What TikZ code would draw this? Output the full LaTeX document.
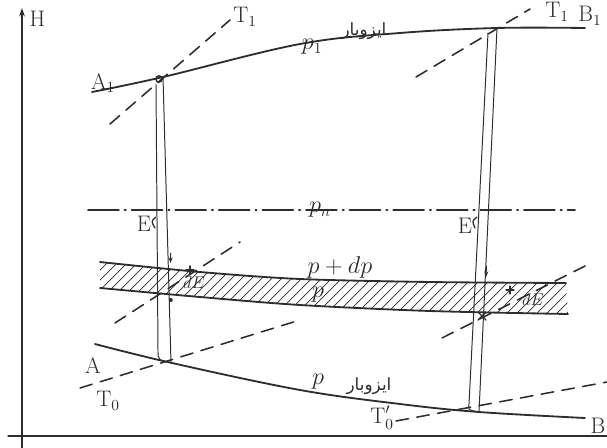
\documentclass[tikz,border=0pt]{standalone}
\usepackage{fontspec}
\newfontfamily\arabicfont[Script=Arabic]{DejaVu Sans}
\TeXXeTstate=1
\usetikzlibrary{arrows.meta,calc}

\begin{document}
\begin{tikzpicture}[x=0.025cm,y=-0.025cm,line cap=round,line join=round]
  % ----- styles & colors -----
    \definecolor{ink}{RGB}{45,45,45}  % pencil gray
  \tikzset{
    curve/.style={draw=ink,line width=1.3pt},
    guide/.style={draw=ink,line width=0.7pt},
    tangent/.style={draw=ink,line width=1.1pt,dash pattern=on 9pt off 6pt},
    dashdot_line/.style={draw=ink,line width=1.1pt,dash pattern=on 22pt off 4pt on 1pt off 4pt},
    hatch/.style={draw=ink,line width=0.5pt},
    lbl/.style={font=\fontsize{16}{18}\selectfont,text=ink,inner sep=1pt},
    fa/.style={font=\arabicfont\fontsize{12}{14}\selectfont,text=ink,inner sep=1pt},
    tip/.style={draw=ink,line width=0.7pt,-{Stealth[length=4pt,width=3pt]}}
  }
  \useasboundingbox (0,0) rectangle (607,448);

  % ----- geometry -----
  \coordinate (P1) at (163,77);   % tangent point on upper isobar, left
  \coordinate (Q1) at (497,28);   % tangent point on upper isobar, right
  \coordinate (P0) at (172,363);  % tangent point on lower isobar, left
  \coordinate (Q0) at (479,412);  % tangent point on lower isobar, right

  % ----- axes -----
  \coordinate (Hbot) at (22,448);
  \coordinate (Htop) at (22,8);
  \coordinate (Bl) at (8,436);
  \coordinate (Br) at (607,436);
  \draw[curve,line width=0.9pt,-{Stealth[length=6pt,width=4pt]}] (Hbot) -- (Htop);
  \draw[curve,line width=0.9pt] (Bl) -- (Br);
  \node[lbl,anchor=west] (H) at (28,19) {H};

  % ----- isobars -----
  \draw[curve] plot[smooth,tension=0.6] coordinates {(92,92) (P1) (300,44) (400,33) (Q1) (585,28)};
  \draw[curve] plot[smooth,tension=0.6] coordinates {(95,344) (P0) (300,390) (400,404) (Q0) (585,418)};
  \node[lbl] (A1) at (103,83) {A$_1$};
  \node[lbl] (B1) at (590,16) {B$_1$};
  \node[lbl] (A) at (93,366) {A};
  \node[lbl] (B) at (598,426) {B};
  \node[lbl] (p1) at (312,47) {$p_1$};
  \node[fa] (iso1) at (364,31) {\beginR ایزوبار\endR};
  \node[lbl] (p0) at (318,382) {$p$};
  \node[fa] (iso0) at (369,386) {\beginR ایزوبار\endR};

  % ----- band between p and p+dp -----
  \begin{scope}
    \clip plot[smooth] coordinates {(100,262) (200,272) (300,279) (430,282) (566,283)}
      -- plot[smooth] coordinates {(568,314) (430,311) (300,305) (200,297) (100,288)} -- cycle;
    \foreach \x in {20,30,...,600}{
      \draw[hatch] (\x,330) -- ++(80,-80);
    }
  \end{scope}
  \draw[curve] plot[smooth] coordinates {(100,262) (200,272) (300,279) (430,282) (566,283)};
  \draw[curve] plot[smooth] coordinates {(100,288) (200,297) (300,305) (430,311) (568,314)};
  \node[lbl] (pdp) at (340,267) {$p+dp$};
  \node[lbl] (p) at (318,295) {$p$};

  % ----- line p_n -----
  \coordinate (Nl) at (88,210);
  \coordinate (Nr) at (575,210);
  \draw[dashdot_line] (Nl) -- (Nr);
  \node[lbl] (pn) at (320,210) {$p_n$};

  % ----- tangents -----
  \coordinate (T1a) at (110,124);
  \coordinate (T1b) at (230,20);
  \coordinate (T1c) at (416,77);
  \coordinate (T1d) at (530,9);
  \coordinate (T0a) at (80,388);
  \coordinate (T0b) at (300,320);
  \coordinate (T0c) at (396,421);
  \coordinate (T0d) at (607,382);
  \coordinate (Ta) at (115,323);
  \coordinate (Tb) at (240,242);
  \coordinate (Tc) at (442,338);
  \coordinate (Td) at (587,265);
  \foreach \a/\b in {T1a/T1b,T1c/T1d,T0a/T0b,T0c/T0d,Ta/Tb,Tc/Td}{
    \draw[tangent] (\a) -- (\b);
  }
  \node[lbl] (T1l) at (245,17) {T$_1$};
  \node[lbl] (T1r) at (557,12) {T$_1$};
  \node[lbl] (T0l) at (108,401) {T$_0$};
  \node[lbl] (T0r) at (382,418) {T$_0'$};

  % ----- vertical paths -----
  \coordinate (L1) at (156,84);
  \coordinate (L2) at (158,351);
  \coordinate (R1) at (488,33);
  \coordinate (R2) at (469,404);
  \draw[guide] (L1) -- (L2) .. controls (158,360) .. (P0);
  \draw[guide] (P1) -- (171,363);
  \draw[guide] (R1) -- (R2) .. controls (468,410) .. (Q0);
  \draw[guide] (Q1) -- (Q0);
  \draw[guide,line width=1pt] (P1) ++(-4,2) circle (3.2);

  % ----- marks at the band -----
  \draw[tip] (170.5,253) -- (170.6,263);
  \fill[ink] (170.8,300) circle (2);
  \draw[tip] (486.5,266) -- (486,277);
  \draw[guide,line width=1pt] (478,312) -- (486,320) (478,320) -- (486,312);
  \draw[guide,line width=1pt] (186,270) -- (194,270) (190,266) -- (190,274);
  \draw[guide,line width=0.8pt] (506,290) -- (514,290) (510,286) -- (510,294);
  \node[lbl,font=\fontsize{12}{14}\selectfont] (dEl) at (194,283) {$dE$};
  \node[lbl,font=\fontsize{12}{14}\selectfont] (dEr) at (533,300) {$dE$};

  % ----- E labels -----
  \node[lbl] (El) at (144,224) {E};
  \node[lbl] (Er) at (465,226) {E};
  \draw[guide,line width=0.9pt] (156,217) .. controls (151,221) .. (155,228);
  \draw[guide,line width=0.9pt] (477,217) .. controls (472,221) .. (475,228);
\end{tikzpicture}
\end{document}
